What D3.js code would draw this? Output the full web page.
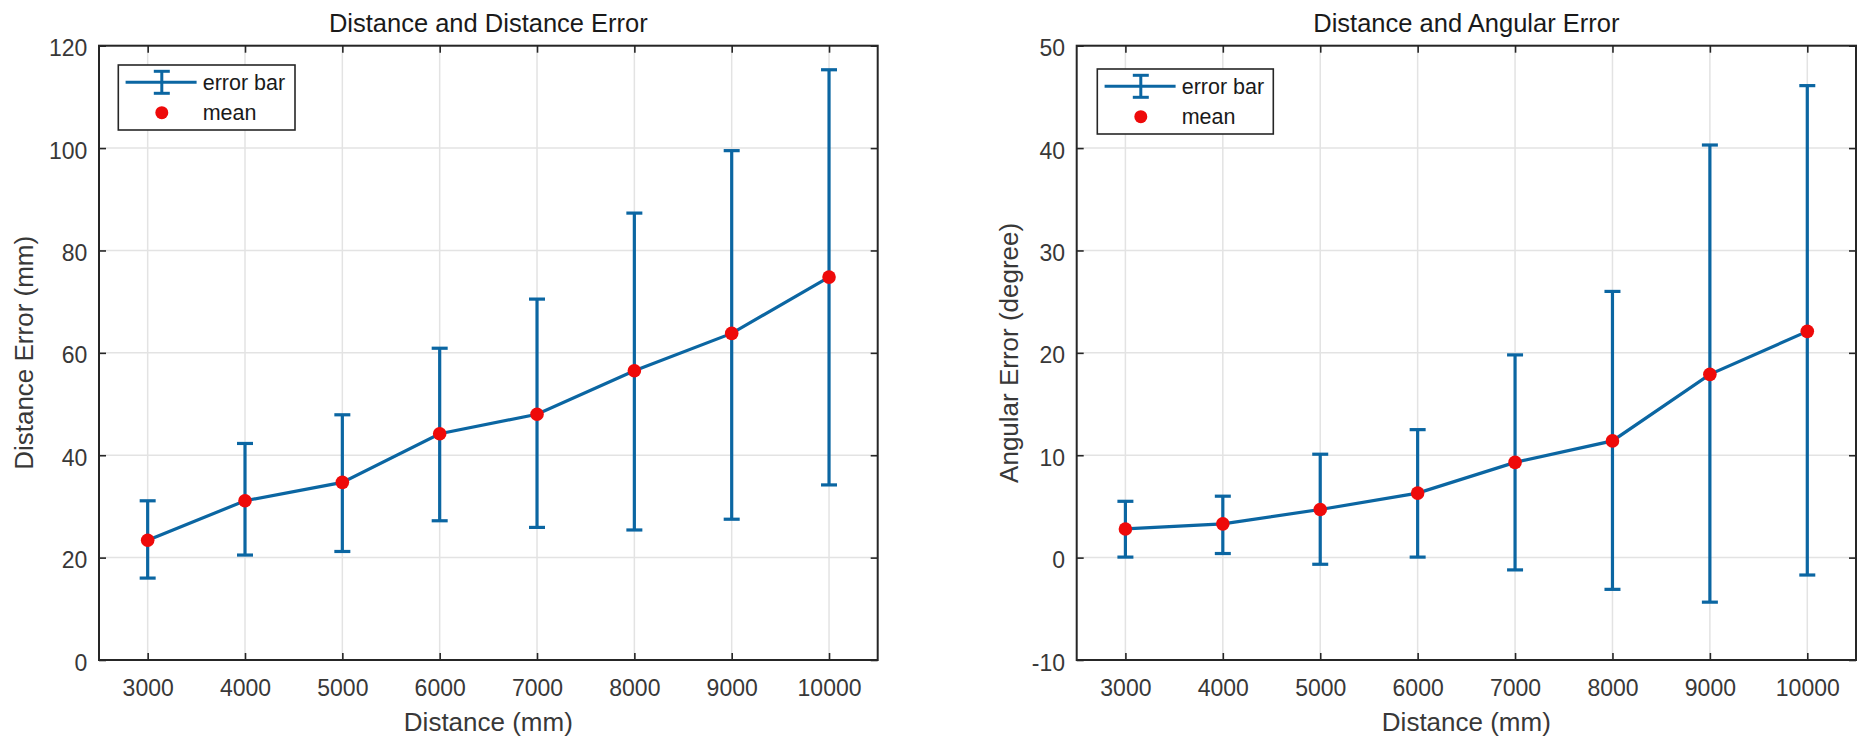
<!DOCTYPE html>
<html>
<head>
<meta charset="utf-8">
<script src="https://cdn.jsdelivr.net/npm/d3@7"></script>
<style>
  html, body { margin: 0; padding: 0; background: #fff; }
  svg { display: block; font-family: "Liberation Sans", Arial, Helvetica, sans-serif; }
</style>
</head>
<body>
<svg id="chart" width="1866" height="743"></svg>
<script>
// ---- data ----
const distances = [3000, 4000, 5000, 6000, 7000, 8000, 9000, 10000];
const xTicks = [3000, 4000, 5000, 6000, 7000, 8000, 9000, 10000];

const distMean  = [23.4, 31.1, 34.7, 44.2, 48.0, 56.5, 63.8, 74.8];
const distLower = [16.0, 20.5, 21.2, 27.2, 25.9, 25.4, 27.5, 34.2];
const distUpper = [31.1, 42.3, 47.9, 60.9, 70.5, 87.3, 99.5, 115.3];
const distYTicks = [0, 20, 40, 60, 80, 100, 120];

const angMean  = [2.8, 3.3, 4.7, 6.3, 9.3, 11.4, 17.9, 22.1];
const angLower = [0.05, 0.4, -0.65, 0.05, -1.2, -3.1, -4.35, -1.7];
const angUpper = [5.5, 6.0, 10.1, 12.5, 19.8, 26.0, 40.3, 46.1];
const angYTicks = [-10, 0, 10, 20, 30, 40, 50];

const titles = ["Distance and Distance Error", "Distance and Angular Error"];
const xLabel = "Distance (mm)";
const yLabels = ["Distance Error (mm)", "Angular Error (degree)"];
const legendLabels = ["error bar", "mean"];

// ---- style ----
const BLUE = "#0b66a2";
const RED = "#ee0a0a";
const AX = "#262626";
const TXT = "#383838";
const GRID = "#e3e3e3";

const svg = d3.select("#chart");
const plainFmt = d => String(d);   // hyphen-minus, as in the reference

const panels = [
  { x0: 99, y0: 45.7, w: 778.7, h: 614.3, yDomain: [0, 120], yTicks: distYTicks,
    mean: distMean, lower: distLower, upper: distUpper, title: titles[0], yLabel: yLabels[0],
    yLabelX: 33, legend: { x: 118.3, y: 65, w: 176.7, h: 65 } },
  { x0: 1076.7, y0: 45.7, w: 779.3, h: 614.3, yDomain: [-10, 50], yTicks: angYTicks,
    mean: angMean, lower: angLower, upper: angUpper, title: titles[1], yLabel: yLabels[1],
    yLabelX: 1018, legend: { x: 1097.3, y: 69, w: 176, h: 65 } }
];

panels.forEach(p => {
  const x = d3.scaleLinear().domain([2500, 10500]).range([0, p.w]);
  const y = d3.scaleLinear().domain(p.yDomain).range([p.h, 0]);
  const g = svg.append("g").attr("transform", `translate(${p.x0},${p.y0})`);

  // grid
  g.append("g").selectAll("line.vg").data(xTicks).join("line")
    .attr("x1", d => x(d)).attr("x2", d => x(d)).attr("y1", 0).attr("y2", p.h)
    .attr("stroke", GRID).attr("stroke-width", 1.5);
  g.append("g").selectAll("line.hg").data(p.yTicks).join("line")
    .attr("x1", 0).attr("x2", p.w).attr("y1", d => y(d)).attr("y2", d => y(d))
    .attr("stroke", GRID).attr("stroke-width", 1.5);

  // axes
  const styleAxis = sel => {
    sel.select(".domain").remove();
    sel.selectAll(".tick line").attr("stroke", AX).attr("stroke-width", 1.6);
    sel.selectAll(".tick text").attr("fill", TXT).style("font-size", "23px")
      .style("font-family", '"Liberation Sans", Arial, sans-serif');
  };
  g.append("g").attr("transform", `translate(0,${p.h})`)
    .call(d3.axisBottom(x).tickValues(xTicks).tickSizeInner(-7).tickSizeOuter(0).tickPadding(20).tickFormat(plainFmt))
    .call(styleAxis);
  g.append("g")
    .call(d3.axisTop(x).tickValues(xTicks).tickSizeInner(-7).tickSizeOuter(0).tickFormat(""))
    .call(styleAxis);
  g.append("g")
    .call(d3.axisLeft(y).tickValues(p.yTicks).tickSizeInner(-7).tickSizeOuter(0).tickPadding(11.7).tickFormat(plainFmt))
    .call(styleAxis)
    .selectAll(".tick text").attr("dy", "0.44em");
  g.append("g").attr("transform", `translate(${p.w},0)`)
    .call(d3.axisRight(y).tickValues(p.yTicks).tickSizeInner(-7).tickSizeOuter(0).tickFormat(""))
    .call(styleAxis);

  // frame
  g.append("rect").attr("x", 0).attr("y", 0).attr("width", p.w).attr("height", p.h)
    .attr("fill", "none").attr("stroke", AX).attr("stroke-width", 2);

  // error bars
  const capW = 8;
  const eb = g.append("g").attr("stroke", BLUE).attr("stroke-width", 3.2).attr("fill", "none");
  distances.forEach((d, i) => {
    eb.append("line").attr("x1", x(d)).attr("x2", x(d)).attr("y1", y(p.lower[i])).attr("y2", y(p.upper[i]));
    eb.append("line").attr("x1", x(d) - capW).attr("x2", x(d) + capW).attr("y1", y(p.lower[i])).attr("y2", y(p.lower[i]));
    eb.append("line").attr("x1", x(d) - capW).attr("x2", x(d) + capW).attr("y1", y(p.upper[i])).attr("y2", y(p.upper[i]));
  });
  // connecting line
  const line = d3.line().x((d, i) => x(distances[i])).y(d => y(d));
  g.append("path").datum(p.mean).attr("d", line)
    .attr("fill", "none").attr("stroke", BLUE).attr("stroke-width", 3.2);
  // means
  g.append("g").selectAll("circle").data(p.mean).join("circle")
    .attr("cx", (d, i) => x(distances[i])).attr("cy", d => y(d)).attr("r", 6.8)
    .attr("fill", RED);

  // title
  svg.append("text").attr("x", p.x0 + p.w / 2).attr("y", 32.3)
    .attr("text-anchor", "middle").attr("fill", "#1a1a1a").style("font-size", "25.5px")
    .text(p.title);
  // x label
  svg.append("text").attr("x", p.x0 + p.w / 2).attr("y", 731)
    .attr("text-anchor", "middle").attr("fill", TXT).style("font-size", "26px")
    .text(xLabel);
  // y label
  svg.append("text")
    .attr("transform", `translate(${p.yLabelX},${p.y0 + p.h / 2}) rotate(-90)`)
    .attr("text-anchor", "middle").attr("fill", TXT).style("font-size", "26px")
    .text(p.yLabel);

  // legend
  const L = p.legend;
  const lg = svg.append("g").attr("transform", `translate(${L.x},${L.y})`);
  lg.append("rect").attr("width", L.w).attr("height", L.h)
    .attr("fill", "#fff").attr("stroke", AX).attr("stroke-width", 1.6);
  const r1 = 17.3, cx = 43.5;
  lg.append("line").attr("x1", 7.3).attr("x2", 78.3).attr("y1", r1).attr("y2", r1)
    .attr("stroke", BLUE).attr("stroke-width", 3);
  lg.append("line").attr("x1", cx).attr("x2", cx).attr("y1", r1 - 11).attr("y2", r1 + 11)
    .attr("stroke", BLUE).attr("stroke-width", 3);
  [r1 - 11, r1 + 11].forEach(yy => lg.append("line").attr("x1", cx - 8).attr("x2", cx + 8)
    .attr("y1", yy).attr("y2", yy).attr("stroke", BLUE).attr("stroke-width", 3));
  lg.append("circle").attr("cx", cx).attr("cy", 47.7).attr("r", 6.5).attr("fill", RED);
  lg.append("text").attr("x", 84.4).attr("y", r1 + 8).attr("fill", "#1a1a1a")
    .style("font-size", "21.5px").text(legendLabels[0]);
  lg.append("text").attr("x", 84.4).attr("y", 47.7 + 7.5).attr("fill", "#1a1a1a")
    .style("font-size", "21.5px").text(legendLabels[1]);
});
</script>
</body>
</html>
